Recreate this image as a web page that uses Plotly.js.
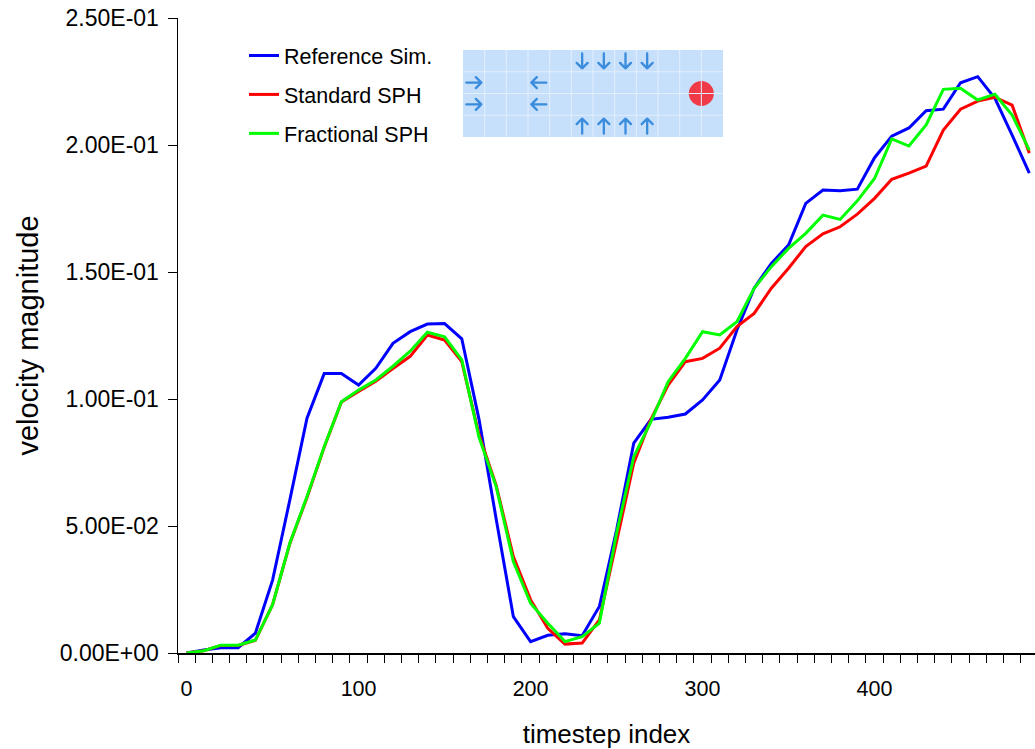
<!DOCTYPE html>
<html>
<head>
<meta charset="utf-8">
<script src="https://cdn.plot.ly/plotly-3.0.1.min.js"></script>
<style>
  html, body { margin: 0; padding: 0; background: #fff; overflow: hidden; }
  #chart { width: 1035px; height: 749px; }
</style>
</head>
<body>
<div id="chart"></div>
<script>
// ---- data ----
const timesteps = [0,10,20,30,40,50,60,70,80,90,100,110,120,130,140,150,160,170,180,190,
  200,210,220,230,240,250,260,270,280,290,300,310,320,330,340,350,360,370,380,390,
  400,410,420,430,440,450,460,470,480,490];

const referenceSim = [0,0.0012,0.0021,0.0021,0.0078,0.0287,0.0602,0.0924,0.110,0.110,
  0.1055,0.1121,0.1219,0.1265,0.1295,0.1297,0.1237,0.0921,0.0528,0.0143,
  0.0045,0.0070,0.0076,0.0068,0.0183,0.0484,0.0826,0.0920,0.0928,0.0941,
  0.0996,0.1075,0.1272,0.1436,0.1534,0.1606,0.1770,0.1823,0.1820,0.1826,
  0.1950,0.2035,0.2067,0.2135,0.2141,0.2245,0.2269,0.2184,0.2039,0.1889];

const standardSPH = [0,0.0009,0.0030,0.0030,0.0050,0.0190,0.0430,0.0612,0.0810,0.0988,
  0.1030,0.1070,0.1120,0.1168,0.1252,0.1232,0.1147,0.0860,0.0660,0.0380,
  0.0210,0.0097,0.0035,0.0039,0.0130,0.0445,0.0747,0.0920,0.1055,0.1147,
  0.1160,0.1200,0.1285,0.1337,0.1436,0.1515,0.1600,0.1650,0.1678,0.1728,
  0.1790,0.1865,0.1889,0.1917,0.2059,0.2141,0.2173,0.2188,0.2157,0.1968];

const fractionalSPH = [0,0.0009,0.0031,0.0031,0.0051,0.0190,0.0432,0.0616,0.0812,0.0989,
  0.1035,0.1075,0.1129,0.1188,0.1263,0.1245,0.1154,0.0850,0.0655,0.0360,
  0.0196,0.0117,0.0045,0.0064,0.0117,0.0471,0.0773,0.0911,0.1068,0.1160,
  0.1265,0.1252,0.1304,0.1436,0.1521,0.1593,0.1652,0.1724,0.1707,0.1780,
  0.1868,0.2024,0.1996,0.2079,0.2219,0.2223,0.2177,0.2200,0.2118,0.1980];

const seriesNames = ['Reference Sim.', 'Standard SPH', 'Fractional SPH'];
const xTickVals = [0, 100, 200, 300, 400];
const xTickText = ['0', '100', '200', '300', '400'];
const yTickVals = [0, 0.05, 0.10, 0.15, 0.20, 0.25];
const yTickText = ['0.00E+00', '5.00E-02', '1.00E-01', '1.50E-01', '2.00E-01', '2.50E-01'];
const xTitle = 'timestep index';
const yTitle = 'velocity magnitude';

// ---- inset illustration (decorative) ----
function buildInset() {
  const W = 260, H = 87, cols = 12, rows = 4;
  const cw = W / cols, rh = H / rows;
  const ac = '#3a8cdc';
  let s = `<svg xmlns='http://www.w3.org/2000/svg' width='${W}' height='${H}' viewBox='0 0 ${W} ${H}'>`;
  s += `<rect x='0' y='0' width='${W}' height='${H}' fill='#c6dffb'/>`;
  s += `<circle cx='${11 * cw}' cy='${2 * rh}' r='12.5' fill='#f03a48'/>`;
  for (let c = 1; c < cols; c++) s += `<line x1='${c * cw}' y1='0' x2='${c * cw}' y2='${H}' stroke='#e3effd' stroke-width='1'/>`;
  for (let r = 1; r < rows; r++) s += `<line x1='0' y1='${r * rh}' x2='${W}' y2='${r * rh}' stroke='#e3effd' stroke-width='1'/>`;
  function arrow(cx, cy, dir) {
    const L = 7.5, h = 5.5;
    let d;
    if (dir === 'down') d = `M${cx} ${cy - L} L${cx} ${cy + L} M${cx - h} ${cy + L - h} L${cx} ${cy + L} L${cx + h} ${cy + L - h}`;
    if (dir === 'up') d = `M${cx} ${cy + L} L${cx} ${cy - L} M${cx - h} ${cy - L + h} L${cx} ${cy - L} L${cx + h} ${cy - L + h}`;
    if (dir === 'right') d = `M${cx - L} ${cy} L${cx + L} ${cy} M${cx + L - h} ${cy - h} L${cx + L} ${cy} L${cx + L - h} ${cy + h}`;
    if (dir === 'left') d = `M${cx + L} ${cy} L${cx - L} ${cy} M${cx - L + h} ${cy - h} L${cx - L} ${cy} L${cx - L + h} ${cy + h}`;
    return `<path d='${d}' fill='none' stroke='${ac}' stroke-width='2.3' stroke-linecap='round' stroke-linejoin='round'/>`;
  }
  for (let c = 5; c <= 8; c++) {
    s += arrow((c + 0.5) * cw, 0.5 * rh, 'down');
    s += arrow((c + 0.5) * cw, 3.5 * rh, 'up');
  }
  for (let r = 1; r <= 2; r++) {
    s += arrow(0.5 * cw, (r + 0.5) * rh, 'right');
    s += arrow(3.5 * cw, (r + 0.5) * rh, 'left');
  }
  s += '</svg>';
  return 'data:image/svg+xml;charset=utf-8,' + encodeURIComponent(s);
}

const colors = ['#0000ff', '#ff0000', '#00ff00'];
const values = [referenceSim, standardSPH, fractionalSPH];
const traces = values.map((v, k) => ({
  type: 'scatter', mode: 'lines',
  x: timesteps, y: v, name: seriesNames[k],
  legendgroup: 'g' + k,
  line: { color: colors[k], width: 3 }
}));

const FONT = 'Liberation Sans, Arial, Helvetica, sans-serif';
const L = 178, T = 18, B = 96, PW = 857, PH = 635;

const layout = {
  width: 1035, height: 749,
  margin: { l: L, r: 0, t: T, b: B, pad: 0 },
  paper_bgcolor: '#ffffff', plot_bgcolor: '#ffffff',
  font: { family: FONT, color: '#000000', size: 21 },
  showlegend: true,
  legend: {
    x: (244 - L) / PW, y: (653 - 35) / PH, xanchor: 'left', yanchor: 'top',
    bgcolor: 'rgba(0,0,0,0)', font: { size: 21.5, family: FONT, color: '#000' },
    tracegroupgap: 8
  },
  xaxis: {
    range: [-5, 493.3], autorange: false,
    tickmode: 'array', tickvals: xTickVals, ticktext: xTickText,
    ticks: '', ticklabelstandoff: 16,
    tickfont: { size: 21.5, family: FONT, color: '#000' },
    showline: true, linecolor: '#000', linewidth: 1.5,
    showgrid: false, zeroline: false, automargin: false,
    minor: { ticks: 'outside', tickmode: 'linear', tick0: -5, dtick: 10, ticklen: 8, tickwidth: 1, tickcolor: '#000', showgrid: false },
    title: { text: xTitle, font: { size: 26, family: FONT, color: '#000' }, standoff: 24 }
  },
  yaxis: {
    range: [0, 0.25], autorange: false,
    tickmode: 'array', tickvals: yTickVals, ticktext: yTickText,
    ticks: 'outside', ticklen: 9, tickwidth: 1, tickcolor: '#000',
    ticklabelstandoff: 4,
    tickfont: { size: 23, family: FONT, color: '#000' },
    showline: true, linecolor: '#000', linewidth: 1.5,
    showgrid: false, zeroline: false, automargin: false,
    title: { text: yTitle, font: { size: 29, family: FONT, color: '#000' }, standoff: 12 }
  },
  images: [{
    source: buildInset(), xref: 'paper', yref: 'paper',
    x: (463 - L) / PW, y: (653 - 50) / PH, sizex: 260 / PW, sizey: 87 / PH,
    xanchor: 'left', yanchor: 'top', sizing: 'stretch', layer: 'above'
  }]
};

Plotly.newPlot('chart', traces, layout, { displayModeBar: false, staticPlot: true });
</script>
</body>
</html>
